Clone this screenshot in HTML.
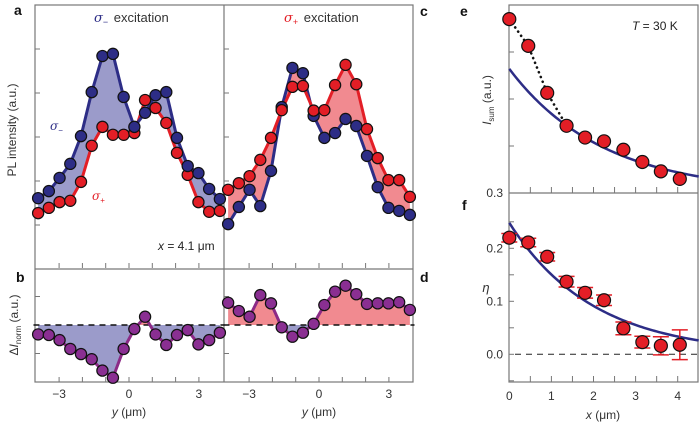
<!DOCTYPE html>
<html><head><meta charset="utf-8"><style>
html,body{margin:0;padding:0;background:#fff;}
svg{display:block;font-family:"Liberation Sans",sans-serif;}
</style></head><body>
<svg id="c" width="700" height="424" viewBox="0 0 700 424"></svg>
<script>
// ---- data ----
const yPos = [-3.9,-3.44,-2.98,-2.52,-2.06,-1.6,-1.14,-0.69,-0.23,0.23,0.69,1.14,1.6,2.06,2.52,2.98,3.44,3.9];
const aBlue = [1.61,1.77,2.07,2.39,3.02,4.02,4.84,4.89,3.91,3.23,3.55,3.95,4.02,2.98,2.34,2.18,1.82,1.59];
const aRed  = [1.27,1.39,1.52,1.55,1.98,2.80,3.23,3.05,3.05,3.09,3.84,3.66,3.32,2.64,2.14,1.52,1.30,1.32];
const cBlue = [1.02,1.41,1.80,1.43,2.23,3.68,4.57,4.45,3.48,2.98,3.09,3.41,3.25,2.57,1.86,1.39,1.32,1.23];
const cRed  = [1.80,1.95,2.11,2.48,2.98,3.61,4.14,4.16,3.60,3.61,4.18,4.64,4.20,3.18,2.52,2.02,2.02,1.64];
const bDelta = [-0.33,-0.35,-0.53,-0.84,-1.02,-1.20,-1.60,-1.85,-0.84,-0.14,0.29,-0.33,-0.70,-0.35,-0.18,-0.68,-0.53,-0.27];
const dDelta = [0.78,0.49,0.29,1.05,0.76,-0.08,-0.41,-0.27,0.04,0.70,1.17,1.38,1.08,0.74,0.76,0.76,0.80,0.53];
const xPos = [0,0.45,0.9,1.36,1.8,2.25,2.71,3.16,3.6,4.05];
const eSum = [0.670,0.613,0.513,0.443,0.418,0.410,0.392,0.366,0.346,0.330];
const fEta = [0.220,0.211,0.184,0.137,0.116,0.102,0.049,0.023,0.016,0.018];
const fErr = [0.008,0.008,0.008,0.010,0.010,0.010,0.012,0.011,0.017,0.028];
const yTicks = [-3,0,3];
const fTickLabels = ["0.0","0.1","0.2"];
const xTickLabels = ["0","1","2","3","4"];

const NS="http://www.w3.org/2000/svg", svg=document.getElementById('c');
function el(tag,attrs,parent){const e=document.createElementNS(NS,tag);for(const k in attrs)e.setAttribute(k,attrs[k]);(parent||svg).appendChild(e);return e;}
function txt(x,y,s,attrs){const t=el('text',Object.assign({x:x,y:y},attrs||{}));t.innerHTML=s;return t;}

const sxL = v=>129+v*23.3, sxR = v=>319+v*23.3;
const sI = v=>269-v*44;
const sD = v=>325-v*28.5;
const sxE = v=>509.3+v*42.1;
const sE = v=>193-(v-0.3)*470;
const sF = v=>354.3-v*530;

const BLUE="#2d2d86", RED="#e31e26", LAV="#9b9bca", PINK="#f18a90", PURP="#8a2f92", PLINE="#8c2a86", AX="#777";

let g;
g=el('g',{});  
el('rect',{x:35,y:5,width:378,height:377,fill:'none',stroke:AX,'stroke-width':1.2},g);
el('line',{x1:224,y1:5,x2:224,y2:382,stroke:AX,'stroke-width':1.2},g);
el('line',{x1:35,y1:269,x2:413,y2:269,stroke:AX,'stroke-width':1.2},g);
el('rect',{x:509,y:5,width:189,height:377,fill:'none',stroke:AX,'stroke-width':1.2},g);
el('line',{x1:509,y1:193,x2:698,y2:193,stroke:AX,'stroke-width':1.2},g);

for(let k=1;k<=5;k++){el('line',{x1:35,y1:sI(k),x2:40,y2:sI(k),stroke:AX},g);el('line',{x1:224,y1:sI(k),x2:229,y2:sI(k),stroke:AX},g);}
[-1,1].forEach(k=>{el('line',{x1:35,y1:sD(k),x2:40,y2:sD(k),stroke:AX},g);el('line',{x1:224,y1:sD(k),x2:229,y2:sD(k),stroke:AX},g);});
for(let k=-4;k<=4;k++){[sxL(k),sxR(k)].forEach(x=>{if(x>36&&x<412&&Math.abs(x-224)>3){el('line',{x1:x,y1:268,x2:x,y2:263,stroke:AX},g);el('line',{x1:x,y1:382,x2:x,y2:377,stroke:AX},g);}});}
yTicks.forEach(v=>{
  let t=txt(sxL(v),398,v<0?'−'+(-v):v,{'text-anchor':'middle','font-size':12,fill:'#333'});
   
  t=txt(sxR(v),398,v<0?'−'+(-v):v,{'text-anchor':'middle','font-size':12,fill:'#333'});
   
});
for(let k=0;k<=9;k++){const x=sxE(k*0.5); if(x>510&&x<697){el('line',{x1:x,y1:193,x2:x,y2:187,stroke:AX},g);el('line',{x1:x,y1:382,x2:x,y2:376,stroke:AX},g);}}
[0.4,0.5,0.6].forEach(v=>el('line',{x1:509,y1:sE(v),x2:514,y2:sE(v),stroke:AX},g));
for(let v=-0.05;v<=0.26;v+=0.05){el('line',{x1:509,y1:sF(v),x2:514,y2:sF(v),stroke:AX},g);}
fTickLabels.forEach((s,i)=>{const t=txt(503,sF(i*0.1)+4,s,{'text-anchor':'end','font-size':12,fill:'#333'});});
xTickLabels.forEach((s,i)=>{const t=txt(sxE(i),400,s,{'text-anchor':'middle','font-size':12,fill:'#333'});});
let t0=txt(503,197,'0.3',{'text-anchor':'end','font-size':12,fill:'#333'});  

function pairPanel(sx,b,r,fill,name){
  const g=el('g',{});  
  const pb=yPos.map((y,i)=>sx(y)+','+sI(b[i])), pr=yPos.map((y,i)=>sx(y)+','+sI(r[i]));
  el('polygon',{points:pb.concat(pr.slice().reverse()).join(' '),fill:fill},g);
  const back = name==='panel-a';
  const first = back?[r,RED]:[b,BLUE], second = back?[b,BLUE]:[r,RED];
  [first,second].forEach(([arr,col])=>{
    el('polyline',{points:yPos.map((y,i)=>sx(y)+','+sI(arr[i])).join(' '),fill:'none',stroke:col,'stroke-width':3,'stroke-linejoin':'round'},g);
  });
  [first,second].forEach(([arr,col])=>{
    arr.forEach((v,i)=>{const c=el('circle',{cx:sx(yPos[i]),cy:sI(v),r:5.6,fill:col,stroke:'#111','stroke-width':1.2},g);
       });
  });
}
pairPanel(sxL,aBlue,aRed,LAV,'panel-a');
pairPanel(sxR,cBlue,cRed,PINK,'panel-c');

let cpid=0;
function deltaPanel(sx,d,name){
  const g=el('g',{});  
  const x0=sx(yPos[0]), x1=sx(yPos[yPos.length-1]);
  const pts=yPos.map((y,i)=>sx(y)+','+sD(d[i]));
  const poly=[x0+','+sD(0)].concat(pts,[x1+','+sD(0)]).join(' ');
  cpid++;
  const defs=el('defs',{},g);
  const ca=el('clipPath',{id:'up'+cpid},defs); el('rect',{x:0,y:0,width:700,height:sD(0)},ca);
  const cb=el('clipPath',{id:'dn'+cpid},defs); el('rect',{x:0,y:sD(0),width:700,height:200},cb);
  el('polygon',{points:poly,fill:PINK,'clip-path':'url(#up'+cpid+')'},g);
  el('polygon',{points:poly,fill:LAV,'clip-path':'url(#dn'+cpid+')'},g);
  const dl=el('line',{x1:sx(-4.1),y1:sD(0),x2:sx(4.1),y2:sD(0),stroke:'#111','stroke-width':1.6,'stroke-dasharray':'6,5'},g);
   
  el('polyline',{points:pts.join(' '),fill:'none',stroke:PLINE,'stroke-width':3},g);
  d.forEach((v,i)=>{const c=el('circle',{cx:sx(yPos[i]),cy:sD(v),r:5.6,fill:PURP,stroke:'#111','stroke-width':1.2},g);
     });
}
deltaPanel(sxL,bDelta,'panel-b');
deltaPanel(sxR,dDelta,'panel-d');

g=el('g',{});  
let fit=[]; for(let x=0;x<=4.5;x+=0.05){fit.push(sxE(x)+','+sE(0.3+0.264*Math.exp(-x/2.23)));}
el('polyline',{points:fit.join(' '),fill:'none',stroke:BLUE,'stroke-width':2.5},g);
el('polyline',{points:[0,1,2,3].map(i=>sxE(xPos[i])+','+sE(eSum[i])).join(' '),fill:'none',stroke:'#111','stroke-width':2.6,'stroke-dasharray':'0.1,5','stroke-linecap':'round'},g);
eSum.forEach((v,i)=>{const c=el('circle',{cx:sxE(xPos[i]),cy:sE(v),r:6.5,fill:RED,stroke:'#111','stroke-width':1.2},g);});

g=el('g',{});  
el('line',{x1:515,y1:sF(0),x2:698,y2:sF(0),stroke:'#222','stroke-width':1,'stroke-dasharray':'6,5'},g);
fit=[]; for(let x=0;x<=4.5;x+=0.05){fit.push(sxE(x)+','+sF(0.248*Math.exp(-x/2.0)));}
el('polyline',{points:fit.join(' '),fill:'none',stroke:BLUE,'stroke-width':2.5},g);
fEta.forEach((v,i)=>{const x=sxE(xPos[i]),lo=sF(v-fErr[i]),hi=sF(v+fErr[i]);
  el('line',{x1:x,y1:lo,x2:x,y2:hi,stroke:RED,'stroke-width':1.5},g);
  el('line',{x1:x-8,y1:lo,x2:x+8,y2:lo,stroke:RED,'stroke-width':1.5},g);
  el('line',{x1:x-8,y1:hi,x2:x+8,y2:hi,stroke:RED,'stroke-width':1.5},g);
  const c=el('circle',{cx:x,cy:sF(v),r:6.5,fill:RED,stroke:'#111','stroke-width':1.2},g);});
</script>
<script>
(function(){
const svg=document.getElementById('c'),NS="http://www.w3.org/2000/svg";
function T(x,y,html,attrs,name){const t=document.createElementNS(NS,'text');t.setAttribute('x',x);t.setAttribute('y',y);for(const k in attrs)t.setAttribute(k,attrs[k]);t.innerHTML=html;


svg.appendChild(t);return t;}
const B={'font-weight':'bold','font-size':14,fill:'#111'};
T(14,15,'a',B,'panel-a-label');T(16,282,'b',B,'panel-b-label');T(420,16,'c',B,'panel-c-label');T(420,282,'d',B,'panel-d-label');
T(460,16,'e',B,'panel-e-label');T(462,210,'f',B,'panel-f-label');
T(94,22,'<tspan fill="#2d2d86" font-style="italic" font-family="DejaVu Serif">σ</tspan><tspan fill="#2d2d86" font-size="9" dy="3">−</tspan><tspan dy="-3" dx="2"> excitation</tspan>',{'font-size':13,fill:'#333'},'sigma-minus-excitation-title');
T(284,22,'<tspan fill="#e31e26" font-style="italic" font-family="DejaVu Serif">σ</tspan><tspan fill="#e31e26" font-size="9" dy="3">+</tspan><tspan dy="-3" dx="2"> excitation</tspan>',{'font-size':13,fill:'#333'},'sigma-plus-excitation-title');
T(50,130,'<tspan font-style="italic" font-family="DejaVu Serif">σ</tspan><tspan font-size="8" dy="3">−</tspan>',{'font-size':12,fill:'#2d2d86'},'sigma-minus-label');
T(92,200,'<tspan font-style="italic" font-family="DejaVu Serif">σ</tspan><tspan font-size="8" dy="3">+</tspan>',{'font-size':12,fill:'#e31e26'},'sigma-plus-label');
T(158,250,'<tspan font-style="italic">x</tspan> = 4.1 μm',{'font-size':12,fill:'#222'},'x-position-note');
T(632,30,'<tspan font-style="italic">T</tspan> = 30 K',{'font-size':12,fill:'#222'},'temperature-note');
T(16,130,'PL intensity (a.u.)',{'font-size':12,fill:'#333','text-anchor':'middle',transform:'rotate(-90 16 130)'},'a-y-axis-title');
T(18,325,'Δ<tspan font-style="italic">I</tspan><tspan font-size="8" dy="3">norm</tspan><tspan dy="-3"> (a.u.)</tspan>',{'font-size':12,fill:'#333','text-anchor':'middle',transform:'rotate(-90 18 325)'},'b-y-axis-title');
T(491,100,'<tspan font-style="italic">I</tspan><tspan font-size="8" dy="3">sum</tspan><tspan dy="-3"> (a.u.)</tspan>',{'font-size':12,fill:'#333','text-anchor':'middle',transform:'rotate(-90 491 100)'},'e-y-axis-title');
T(486,292,'η',{'font-size':13,'font-style':'italic',fill:'#333','text-anchor':'middle'},'f-y-axis-title');
T(129,416,'<tspan font-style="italic">y</tspan> (μm)',{'font-size':12,fill:'#333','text-anchor':'middle'},'b-x-axis-title');
T(319,416,'<tspan font-style="italic">y</tspan> (μm)',{'font-size':12,fill:'#333','text-anchor':'middle'},'d-x-axis-title');
T(603,419,'<tspan font-style="italic">x</tspan> (μm)',{'font-size':12,fill:'#333','text-anchor':'middle'},'f-x-axis-title');
})();
</script>
</body></html>
